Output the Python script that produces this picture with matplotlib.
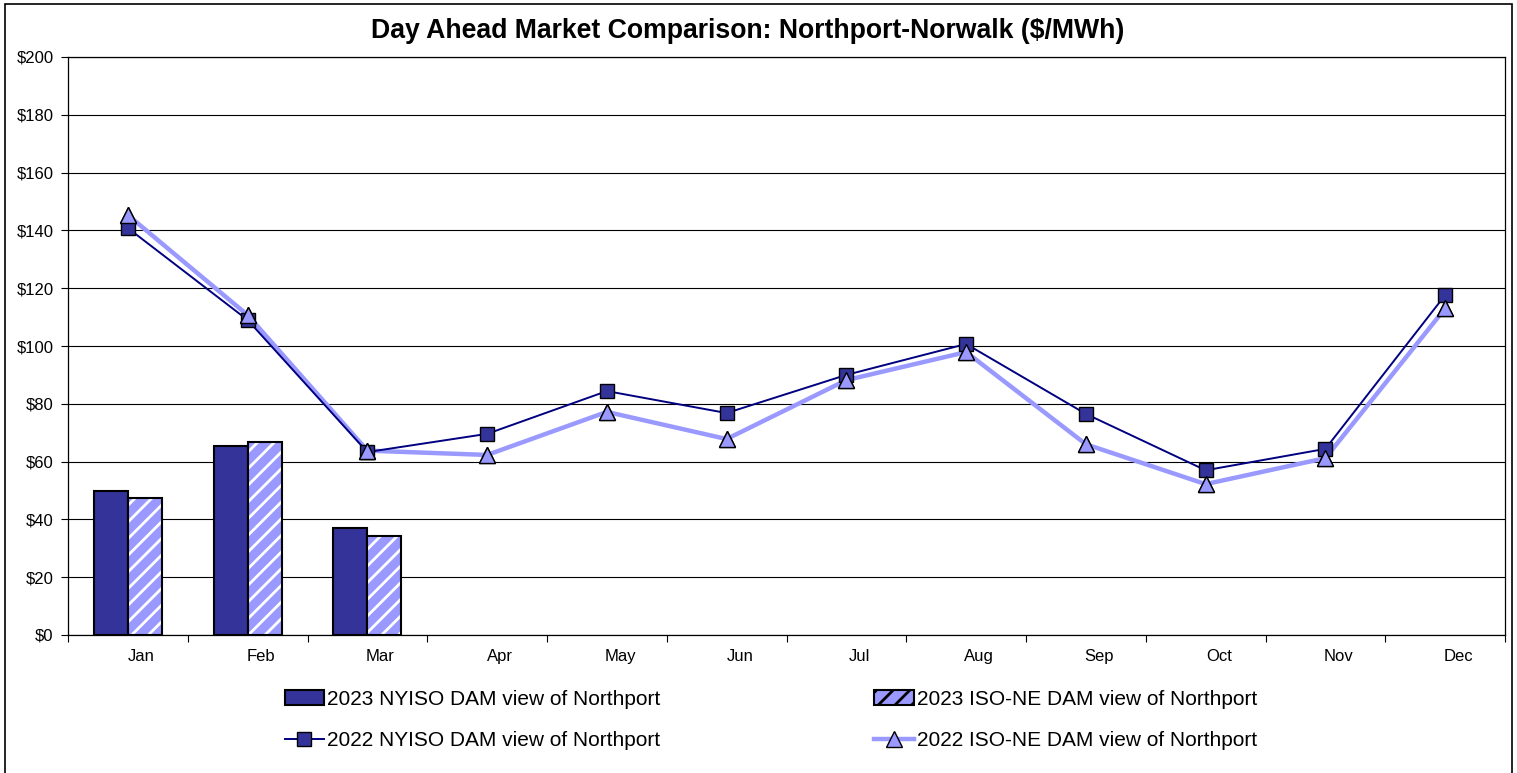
import numpy as np
import matplotlib
matplotlib.use("Agg")
import matplotlib.pyplot as plt
from matplotlib.patches import Patch, Rectangle
from matplotlib.lines import Line2D

plt.rcParams["font.family"] = ["Liberation Sans", "DejaVu Sans"]
plt.rcParams["hatch.linewidth"] = 2.0

## === Data === ##
months = ["Jan", "Feb", "Mar", "Apr", "May", "Jun", "Jul", "Aug", "Sep", "Oct", "Nov", "Dec"]
nyiso_2023 = [50.0, 65.4, 37.0]
isone_2023 = [47.4, 66.8, 34.3]
nyiso_2022 = [140.8, 109.0, 63.3, 69.6, 84.4, 76.8, 90.0, 100.7, 76.5, 57.0, 64.4, 117.6]
isone_2022 = [145.3, 110.7, 63.8, 62.3, 77.2, 67.8, 88.2, 97.9, 66.0, 52.2, 61.2, 113.0]

labels = ["2023 NYISO DAM view of Northport", "2023 ISO-NE DAM view of Northport",
          "2022 NYISO DAM view of Northport", "2022 ISO-NE DAM view of Northport"]

dark = "#333399"
light = "#9999FF"
navy = "#000080"

## === Figure === ##
W, H = 1517, 773
fig = plt.figure(figsize=(W / 100, H / 100), dpi=100)
ax = fig.add_axes([68 / W, 1 - 635 / H, (1505 - 68) / W, (635 - 57) / H])

x = np.arange(len(months))
bw = 0.284
xb = np.arange(len(nyiso_2023))

ax.bar(xb - bw / 2, nyiso_2023, bw, color=dark, edgecolor="black", linewidth=1.5, zorder=2)
ax.bar(xb + bw / 2, isone_2023, bw, color=light, edgecolor="white", hatch="//", linewidth=0, zorder=2)
ax.bar(xb + bw / 2, isone_2023, bw, color="none", edgecolor="black", linewidth=1.5, zorder=2)

ax.plot(x, isone_2022, color=light, linewidth=3.2, marker="^", markersize=11,
        markerfacecolor=light, markeredgecolor="black", markeredgewidth=1, zorder=3)
ax.plot(x, nyiso_2022, color=navy, linewidth=1.4, marker="s", markersize=10,
        markerfacecolor=dark, markeredgecolor="black", markeredgewidth=1, zorder=4)
# triangles drawn again above the squares
ax.plot(x, isone_2022, linestyle="none", marker="^", markersize=11,
        markerfacecolor=light, markeredgecolor="black", markeredgewidth=1, zorder=5)

ax.set_xlim(-0.5, len(months) - 0.5)
ax.set_ylim(0, 200)
ax.set_yticks(np.arange(0, 201, 20))
ax.set_yticklabels([f"${v}" for v in range(0, 201, 20)], fontsize=12)
ax.yaxis.grid(True, color="black", linewidth=0.8)
ax.set_axisbelow(True)

# month labels sit a little right of the category centre in the original
ax.set_xticks(x + 0.11)
ax.set_xticklabels(months, fontsize=12)
ax.set_xticks(np.arange(-0.5, len(months), 1), minor=True)
ax.tick_params(axis="x", which="major", length=0, pad=10)
ax.tick_params(axis="x", which="minor", length=5, direction="out", width=0.8)
ax.tick_params(axis="y", length=5, width=0.8, pad=5.5)
for s in ax.spines.values():
    s.set_color("black")
    s.set_linewidth(0.9)

fig.text(748 / W, 1 - 31 / H, "Day Ahead Market Comparison: Northport-Norwalk ($/MWh)",
         fontsize=19.2, fontweight="bold", ha="center", va="center")

## === Legend === ##
h_bar1 = Patch(facecolor=dark, edgecolor="black", linewidth=1.5)
h_bar2 = Patch(facecolor=light, edgecolor="black", hatch="//", linewidth=1.5)
h_line1 = Line2D([], [], color=navy, linewidth=1.4, marker="s", markersize=10,
                 markerfacecolor=dark, markeredgecolor="black")
h_line2 = Line2D([], [], color=light, linewidth=3.2, marker="^", markersize=11,
                 markerfacecolor=light, markeredgecolor="black")
fig.legend([h_bar1, h_line1, h_bar2, h_line2],
           [labels[0], labels[2], labels[1], labels[3]],
           ncol=2, loc="center", bbox_to_anchor=(0.508, 1 - 720 / H),
           frameon=False, fontsize=15, handlelength=1.9, handletextpad=0.12,
           columnspacing=10.3, labelspacing=1.1)

## === Outer border === ##
fig.patches.append(Rectangle((5 / W, -0.01), (1512 - 5) / W, 1 - 4 / H + 0.01,
                             transform=fig.transFigure, fill=False,
                             edgecolor="black", linewidth=1.2))

fig.savefig("out.png", dpi=100)
